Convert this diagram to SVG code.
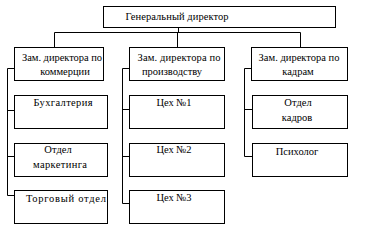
<svg xmlns="http://www.w3.org/2000/svg" width="367" height="235" viewBox="0 0 367 235">
<style>
rect{fill:#fff;stroke:#000;stroke-width:1}
path{fill:none;stroke:#000;stroke-width:1}
text{font-family:"Liberation Serif","Times New Roman",serif;font-size:10.5px;fill:#000;text-anchor:middle}
</style>
<rect x="0" y="0" width="367" height="235" style="stroke:none"/>
<g id="connectors">
<path d="M178.5 27V32.5M54.5 32.5H300.5M54.5 32.5V47M177.5 32.5V47M300.5 32.5V47"/>
<path d="M7.5 68.5H14M7.5 68.5V195.5M7.5 110.5H14M7.5 156.5H14M7.5 195.5H14"/>
<path d="M122.5 68.5H129M122.5 68.5V203.5M122.5 109.5H129M122.5 156.5H129M122.5 203.5H129"/>
<path d="M244.5 68.5H251M244.5 68.5V156.5M244.5 109.5H252M244.5 156.5H252"/>
</g>
<g id="gen"><rect x="103.5" y="6.5" width="232" height="21"/><text x="177" y="20" textLength="103">Генеральный директор</text></g>
<g id="zam1"><rect x="14.5" y="47.5" width="89" height="33"/><text x="62" y="61" textLength="80">Зам. директора по</text><text x="65" y="75">коммерции</text></g>
<g id="zam2"><rect x="129.5" y="47.5" width="95" height="33"/><text x="179" y="61" textLength="83">Зам. директора по</text><text x="172" y="75">производству</text></g>
<g id="zam3"><rect x="251.5" y="47.5" width="96" height="33"/><text x="299" y="61" textLength="81">Зам. директора по</text><text x="298" y="75">кадрам</text></g>
<g id="buh"><rect x="14.5" y="95.5" width="93" height="33"/><text x="63" y="106" textLength="59">Бухгалтерия</text></g>
<g id="mark"><rect x="14.5" y="143.5" width="93" height="33"/><text x="58" y="153">Отдел</text><text x="60" y="168" textLength="54">маркетинга</text></g>
<g id="torg"><rect x="14.5" y="190.5" width="93" height="33"/><text x="66" y="202" textLength="80">Торговый отдел</text></g>
<g id="cex1"><rect x="129.5" y="95.5" width="95" height="33"/><text x="174" y="106">Цех №1</text></g>
<g id="cex2"><rect x="129.5" y="143.5" width="95" height="33"/><text x="174" y="153">Цех №2</text></g>
<g id="cex3"><rect x="129.5" y="190.5" width="95" height="33"/><text x="174" y="201">Цех №3</text></g>
<g id="kadr"><rect x="252.5" y="95.5" width="95" height="33"/><text x="298" y="106">Отдел</text><text x="297" y="121">кадров</text></g>
<g id="psih"><rect x="252.5" y="143.5" width="95" height="33"/><text x="297" y="155">Психолог</text></g>
</svg>
